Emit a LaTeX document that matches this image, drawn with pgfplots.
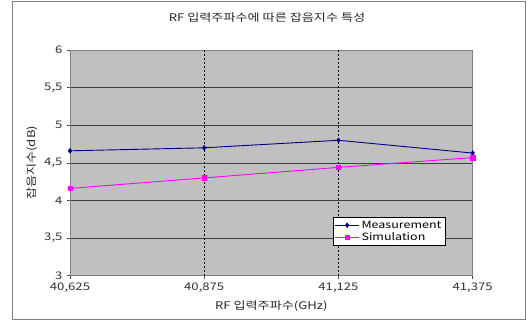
\documentclass[border=0pt]{standalone}
\usepackage{fontspec}
\setmainfont{Noto Sans CJK KR}[FakeStretch=1.25]
\usepackage{pgfplots}
\pgfplotsset{compat=1.18}
\definecolor{meascol}{RGB}{0,0,128}
\definecolor{simcol}{RGB}{255,0,255}
\definecolor{plotbg}{RGB}{192,192,192}
\definecolor{framecol}{RGB}{128,128,128}

\pgfplotstableread{
x y
0 4.66
1 4.70
2 4.80
3 4.63
}\measurement
\pgfplotstableread{
x y
0 4.16
1 4.30
2 4.44
3 4.57
}\simulation

\begin{document}
\begin{tikzpicture}[x=1pt,y=1pt]
\useasboundingbox (-70,-51.3) rectangle (457,275.7);
\draw[framecol,line width=0.8pt] (-57.5,-44) rectangle (455.5,274.5);
\node[font=\fontsize{10.5}{12.5}\selectfont, text=black!85] at (197,258.5) {RF 입력주파수에 따른 잡음지수 특성};
\begin{axis}[
  at={(0,0)}, anchor=south west,
  scale only axis, width=402.7pt, height=225.7pt,
  xmin=0, xmax=3, ymin=3, ymax=6,
  axis background/.style={fill=plotbg},
  axis line style={framecol, line width=0.8pt},
  xtick={0,1,2,3},
  xticklabels={{40,625},{40,875},{41,125},{41,375}},
  ytick={3,3.5,4,4.5,5,5.5,6},
  yticklabels={3,{3,5},4,{4,5},5,{5,5},6},
  tick align=outside, tick pos=left,
  major tick length=3pt,
  tick style={black!70, line width=0.6pt},
  ymajorgrids,
  major grid style={black!75, line width=0.7pt},
  ticklabel style={font=\fontsize{10.5}{12}\selectfont, text=black!80},
  xticklabel style={yshift=-1pt},
  yticklabel style={xshift=-1pt},
  xlabel={RF 입력주파수(GHz)},
  ylabel={잡음지수(dB)},
  label style={font=\fontsize{10.5}{12}\selectfont, text=black!85},
  xlabel style={at={(axis description cs:0.5,-0.137)}, anchor=center},
  ylabel style={at={(axis description cs:-0.094,0.5)}, anchor=center},
  legend style={
    at={(0.653,0.260)}, anchor=north west,
    draw=black, fill=white, line width=0.6pt,
    font=\fontsize{10}{12}\selectfont,
    inner sep=1.5pt, row sep=-1pt,
    legend cell align=left,
    /tikz/every even column/.append style={column sep=1pt},
  },
  legend image code/.code={
    \draw[mark repeat=2, mark phase=2, line width=0.8pt]
      plot coordinates {(0pt,0pt) (12pt,0pt) (24pt,0pt)};
  },
  clip=false,
]
\draw[black, line width=0.7pt, dash pattern=on 2pt off 2pt]
  (axis cs:1,3) -- (axis cs:1,6)
  (axis cs:2,3) -- (axis cs:2,6);
\addplot[meascol, line width=0.9pt, mark=diamond*, mark size=2.4pt,
  mark options={fill=meascol, line width=0.5pt}] table {\measurement};
\addlegendentry{Measurement}
\addplot[simcol, line width=0.9pt, mark=square*, mark size=2.2pt,
  mark options={fill=simcol, line width=0.5pt}] table {\simulation};
\addlegendentry{Simulation}
\end{axis}
\end{tikzpicture}
\end{document}
